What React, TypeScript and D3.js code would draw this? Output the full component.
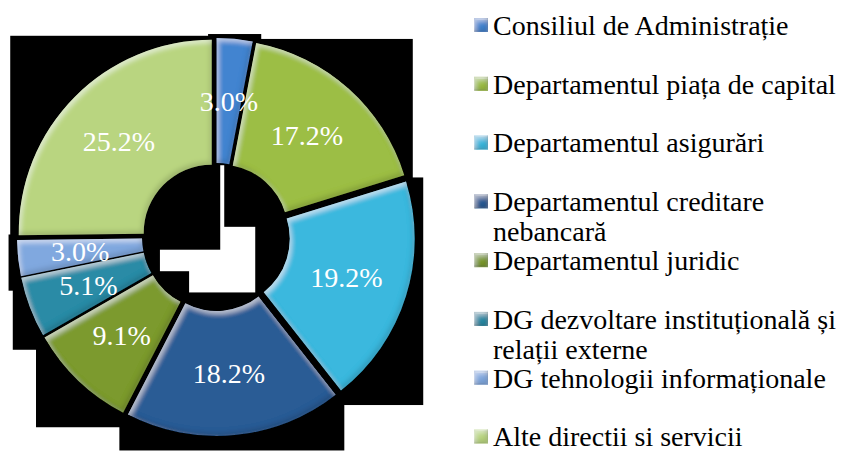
import React from 'react';
import * as d3 from 'd3';

// date (procente pe directii)
const categories = [
  'Consiliul de Administrație',
  'Departamentul piața de capital',
  'Departamentul asigurări',
  'Departamentul creditare nebancară',
  'Departamentul juridic',
  'DG dezvoltare instituțională și relații externe',
  'DG tehnologii informaționale',
  'Alte directii si servicii',
];
const shares = [3.0, 17.2, 19.2, 18.2, 9.1, 5.1, 3.0, 25.2];
const sliceColors = ['#4384d0', '#9cbe44', '#3ab8de', '#2c5c95', '#7b9a2e', '#2a8ba6', '#80a8df', '#b9d580'];

const W = 850;
const H = 452;
const cx = 216;
const cy = 237;
const innerR = 68;
const outerR = 193;
const explode = 6;
// zona neagra din jurul fiecarei felii (umbra pierduta la export)
const pad = { l: 8.5, r: 8.5, t: 4, b: 14.5 };

const fmt = d3.format('.1f');

// impartire simpla pe cuvinte pentru legenda
function wrap(text: string, maxChars: number) {
  const words = text.split(' ');
  const lines: string[] = [];
  let cur = '';
  words.forEach((w) => {
    const next = cur ? cur + ' ' + w : w;
    if (next.length > maxChars && cur) {
      lines.push(cur);
      cur = w;
    } else cur = next;
  });
  if (cur) lines.push(cur);
  return lines;
}

function arcBox(a0: number, a1: number) {
  let x0 = Infinity, x1 = -Infinity, y0 = Infinity, y1 = -Infinity;
  const n = 120;
  for (let i = 0; i <= n; i++) {
    const a = a0 + ((a1 - a0) * i) / n;
    [innerR, outerR].forEach((r) => {
      const x = Math.sin(a) * r;
      const y = -Math.cos(a) * r;
      x0 = Math.min(x0, x); x1 = Math.max(x1, x);
      y0 = Math.min(y0, y); y1 = Math.max(y1, y);
    });
  }
  return { x0, x1, y0, y1 };
}

export default function App() {
  const pie = d3.pie<number>().sort(null).value((d) => d);
  const arcs = pie(shares);
  const arc = d3.arc<d3.PieArcDatum<number>>().innerRadius(innerR).outerRadius(outerR);

  const slices = arcs.map((a, i) => {
    const mid = (a.startAngle + a.endAngle) / 2;
    const dx = Math.sin(mid) * explode;
    const dy = -Math.cos(mid) * explode;
    const box = arcBox(a.startAngle, a.endAngle);
    // felia de sus nu are umbra sub ea in original
    const pb = i === 0 ? 1 : pad.b;
    return { a, i, dx, dy, box, pb };
  });

  const legendY = d3.scaleLinear().domain([0, categories.length - 1]).range([25, 436.5]);
  const lineH = 30;

  return (
    <svg width={W} height={H} style={{ position: 'absolute', left: 0, top: 0, background: '#fff' }}>
      <defs>
        <filter id="bevel" x="-5%" y="-5%" width="110%" height="110%">
          <feGaussianBlur in="SourceAlpha" stdDeviation="2.5" result="blur" />
          <feOffset in="blur" dx="2" dy="3" result="offA" />
          <feComposite in="SourceAlpha" in2="offA" operator="arithmetic" k2="1" k3="-1" result="edgeHi" />
          <feFlood floodColor="#ffffff" floodOpacity="0.5" />
          <feComposite in2="edgeHi" operator="in" result="hi" />
          <feOffset in="blur" dx="-2" dy="-3" result="offB" />
          <feComposite in="SourceAlpha" in2="offB" operator="arithmetic" k2="1" k3="-1" result="edgeLo" />
          <feFlood floodColor="#000000" floodOpacity="0.3" />
          <feComposite in2="edgeLo" operator="in" result="lo" />
          <feMerge>
            <feMergeNode in="SourceGraphic" />
            <feMergeNode in="hi" />
            <feMergeNode in="lo" />
          </feMerge>
        </filter>
      </defs>

      {/* fundaluri negre ale feliilor */}
      {slices.map(({ i, dx, dy, box, pb }) => (
        <rect
          key={'bg' + i}
          x={cx + dx + box.x0 - pad.l}
          y={cy + dy + box.y0 - pad.t}
          width={box.x1 - box.x0 + pad.l + pad.r}
          height={box.y1 - box.y0 + pad.t + pb}
          fill="#000"
        />
      ))}

      {slices.map(({ a, i, dx, dy }) => (
        <path
          key={'s' + i}
          d={arc(a) || ''}
          transform={`translate(${cx + dx},${cy + dy})`}
          fill={sliceColors[i]}
          filter="url(#bevel)"
        />
      ))}

      {slices.map(({ a, i, dx, dy }) => {
        const [lx, ly] = arc.centroid(a);
        return (
          <text
            key={'l' + i}
            x={cx + dx + lx}
            y={cy + dy + ly}
            dy="0.35em"
            textAnchor="middle"
            fill="#fff"
            style={{ fontFamily: '"Liberation Serif", serif', fontSize: 28 }}
          >
            {fmt(shares[i]) + '%'}
          </text>
        );
      })}

      {/* legenda */}
      {categories.map((c, i) => {
        const y = legendY(i);
        const lines = wrap(c, 31);
        return (
          <g key={'lg' + i}>
            <rect x={474} y={y - 7} width={14} height={14} fill={sliceColors[i]} filter="url(#bevel)" />
            {lines.map((ln, j) => (
              <text
                key={j}
                x={493}
                y={y + j * lineH}
                dy="0.35em"
                fill="#000"
                style={{ fontFamily: '"Liberation Serif", serif', fontSize: 28 }}
              >
                {ln}
              </text>
            ))}
          </g>
        );
      })}
    </svg>
  );
}
